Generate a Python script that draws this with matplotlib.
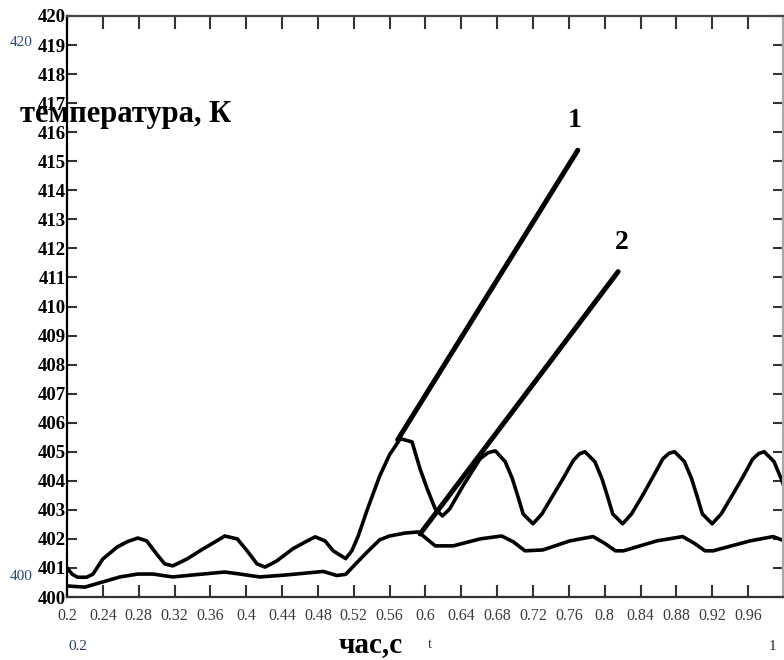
import numpy as np
import matplotlib.pyplot as plt

# curve 1 (upper, oscillating)
t1 = [0.200, 0.206, 0.212, 0.222, 0.229, 0.240, 0.256, 0.267, 0.279, 0.289,
      0.300, 0.309, 0.318, 0.334, 0.352, 0.367, 0.376, 0.390, 0.401, 0.412,
      0.421, 0.434, 0.452, 0.468, 0.477, 0.488, 0.497, 0.511, 0.518, 0.525,
      0.535, 0.549, 0.560, 0.572, 0.585, 0.594, 0.602, 0.611, 0.619, 0.627,
      0.642, 0.661, 0.670, 0.678, 0.689, 0.697, 0.704, 0.709, 0.720, 0.730,
      0.742, 0.754, 0.765, 0.772, 0.778, 0.789, 0.797, 0.804, 0.809, 0.820,
      0.830, 0.842, 0.854, 0.865, 0.872, 0.878, 0.889, 0.897, 0.904, 0.909,
      0.920, 0.930, 0.942, 0.954, 0.965, 0.972, 0.978, 0.989, 0.997, 0.999]
temp1 = [401.00, 400.78, 400.68, 400.68, 400.79, 401.31, 401.72, 401.90, 402.03, 401.93,
         401.48, 401.14, 401.07, 401.31, 401.66, 401.93, 402.10, 402.00, 401.59, 401.14,
         401.03, 401.24, 401.66, 401.93, 402.07, 401.93, 401.59, 401.32, 401.60, 402.10,
         403.00, 404.17, 404.90, 405.45, 405.34, 404.41, 403.72, 403.03, 402.79, 403.03,
         403.83, 404.76, 404.97, 405.03, 404.66, 404.07, 403.38, 402.86, 402.52, 402.86,
         403.48, 404.10, 404.70, 404.93, 405.00, 404.66, 404.07, 403.38, 402.86, 402.52,
         402.86, 403.48, 404.14, 404.76, 404.95, 405.00, 404.66, 404.07, 403.38, 402.86,
         402.52, 402.86, 403.48, 404.12, 404.74, 404.94, 405.00, 404.66, 404.07, 403.90]

# curve 2 (lower)
t2 = [0.200, 0.220, 0.240, 0.259, 0.279, 0.296, 0.318, 0.341, 0.376, 0.393,
      0.415, 0.445, 0.486, 0.501, 0.511, 0.524, 0.535, 0.549, 0.560, 0.577,
      0.592, 0.611, 0.631, 0.661, 0.685, 0.698, 0.711, 0.731, 0.761, 0.787,
      0.800, 0.812, 0.821, 0.858, 0.887, 0.900, 0.912, 0.921, 0.962, 0.988, 0.999]
temp2 = [400.38, 400.34, 400.52, 400.69, 400.79, 400.79, 400.69, 400.76, 400.86, 400.79,
         400.69, 400.76, 400.88, 400.74, 400.78, 401.20, 401.55, 401.97, 402.10, 402.20,
         402.24, 401.76, 401.76, 402.00, 402.10, 401.90, 401.59, 401.62, 401.93, 402.08,
         401.85, 401.59, 401.59, 401.93, 402.08, 401.85, 401.59, 401.59, 401.93, 402.08, 401.95]

# leader lines for the curve numbers
lead1_x = [0.569, 0.770]
lead1_y = [405.41, 415.38]
lead2_x = [0.594, 0.815]
lead2_y = [402.17, 411.20]

xticks = [0.2, 0.24, 0.28, 0.32, 0.36, 0.4, 0.44, 0.48, 0.52, 0.56, 0.6,
          0.64, 0.68, 0.72, 0.76, 0.8, 0.84, 0.88, 0.92, 0.96]
yticks = list(range(400, 421))


def main():
    plt.rcParams['font.family'] = ['Liberation Serif', 'DejaVu Serif']
    W, H = 784, 660
    fig = plt.figure(figsize=(7.84, 6.6), dpi=100)
    ax = fig.add_axes([67 / W, 63 / H, 716 / W, 581 / H])

    ax.plot(t1, temp1, color='black', lw=2.6, solid_joinstyle='round')
    ax.plot(t2, temp2, color='black', lw=2.6, solid_joinstyle='round')
    ax.plot(lead1_x, lead1_y, color='black', lw=3.6, solid_capstyle='round')
    ax.plot(lead2_x, lead2_y, color='black', lw=3.6, solid_capstyle='round')
    ax.text(0.767, 416.4, "1", fontsize=20, fontweight='bold', ha='center', va='center')
    ax.text(0.819, 412.2, "2", fontsize=20, fontweight='bold', ha='center', va='center')

    ax.set_xlim(0.2, 0.999)
    ax.set_ylim(400, 420)
    ax.set_xticks(xticks)
    ax.set_xticklabels([("%g" % v) for v in xticks], color='#3b3b3b', fontsize=11.5)
    ax.set_yticks(yticks)
    ax.set_yticklabels([str(v) for v in yticks], fontsize=13.5, fontweight='bold')
    ax.tick_params(axis='x', direction='in', length=9, width=1.5, color='#333333',
                   top=True, pad=8)
    ax.tick_params(axis='y', direction='in', length=7, width=1.5, color='#333333',
                   right=True, pad=1)
    ax.spines['left'].set_color('black')
    ax.spines['bottom'].set_color('#333333')
    ax.spines['top'].set_color('#444444')
    ax.spines['right'].set_color('#aaaaaa')
    for s in ax.spines.values():
        s.set_linewidth(1.6)

    fig.text(20 / W, 1 - 122 / H, "температура, К", fontsize=22, fontweight='bold',
             ha='left', va='baseline')
    fig.text(371 / W, 1 - 652 / H, "час,с", fontsize=21, fontweight='bold',
             ha='center', va='baseline')
    fig.text(430 / W, 1 - 645 / H, "t", fontsize=10, color='#2a3a5a', ha='center', va='center')
    fig.text(78 / W, 1 - 647 / H, "0.2", fontsize=11, color='#2a3a5a', ha='center', va='center')
    fig.text(772 / W, 1 - 647 / H, "1", fontsize=11, color='#2a2a2a', ha='center', va='center')
    fig.text(21 / W, 1 - 42 / H, "420", fontsize=11, color='#2a4a7a', ha='center', va='center')
    fig.text(21 / W, 1 - 577 / H, "400", fontsize=11, color='#2a4a7a', ha='center', va='center')

    fig.savefig("out.png", dpi=100)


if __name__ == '__main__':
    main()
